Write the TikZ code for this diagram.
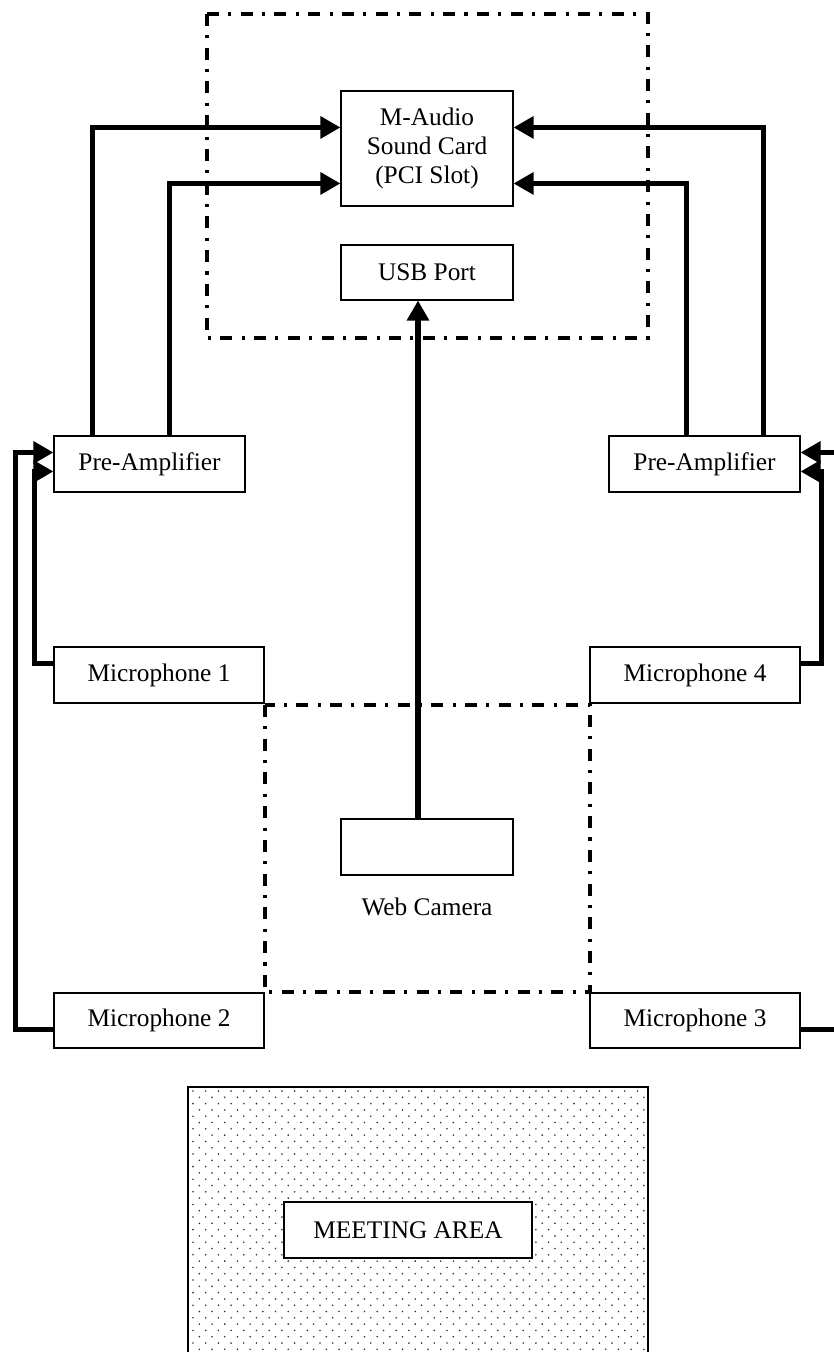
\documentclass[tikz,border=0pt]{standalone}
\usepackage{fontspec}
\setmainfont{Liberation Serif}
\usetikzlibrary{arrows.meta,calc}

\tikzset{
  blk/.style={draw,line width=0.8pt,fill=white,inner sep=0.75pt,align=center,font=\fontsize{19}{22}\selectfont},
  conn/.style={line width=3.8pt,-{Triangle[length=15pt,width=16pt]}},
  dashdot/.style={line width=2.6pt,dash pattern=on 9pt off 7pt on 2.3pt off 7pt}
}

\begin{document}
\begin{tikzpicture}[x=0.75pt,y=0.75pt,yscale=-1,xscale=1]
\useasboundingbox (0,0) rectangle (834,1352);
\clip (0,0) rectangle (834,1352);

% meeting area (dotted)
\draw[line width=0.8pt] (188,1087) rectangle (648,1365);
\foreach \r in {0,...,43}{
  \foreach \c in {0,...,35}{
    \fill[black!80] ({193+12.7*\c+6.35*mod(\r,2)},{1091+6.3*\r}) circle (0.9);
  }
}
\node[blk,minimum width=186pt,minimum height=42pt] (meet) at (408,1230) {MEETING AREA};

% computer and camera regions
\draw[dashdot] (207,14) rectangle (648,338);
\draw[dashdot] (265,705) rectangle (590,992);

% blocks
\node[blk,minimum width=129pt,minimum height=86.25pt] (card) at (427,148.5) {M-Audio\\Sound Card\\(PCI Slot)};
\node[blk,minimum width=129pt,minimum height=41.25pt] (usb) at (427,272.5) {USB Port};
\node[blk,minimum width=143.25pt,minimum height=42pt] (preL) at (149.5,464) {Pre-Amplifier};
\node[blk,minimum width=143.25pt,minimum height=42pt] (preR) at (704.5,464) {Pre-Amplifier};
\node[blk,minimum width=157.5pt,minimum height=42pt] (mic1) at (159,675) {Microphone 1};
\node[blk,minimum width=157.5pt,minimum height=42pt] (mic4) at (695,675) {Microphone 4};
\node[blk,minimum width=157.5pt,minimum height=41.25pt] (mic2) at (159,1020.5) {Microphone 2};
\node[blk,minimum width=157.5pt,minimum height=41.25pt] (mic3) at (695,1020.5) {Microphone 3};
\node[blk,minimum width=129pt,minimum height=42pt] (cam) at (427,847) {};
\node[font=\fontsize{19}{22}\selectfont] (camlbl) at (427,907) {Web Camera};

% pre-amplifiers to sound card
\draw[conn] ($(preL.north west)+(39,0)$) |- ($(card.north west)+(0,37)$);
\draw[conn] ($(preL.north west)+(116,0)$) |- ($(card.north west)+(0,93)$);
\draw[conn] ($(preR.north east)+(-37,0)$) |- ($(card.north east)+(0,37)$);
\draw[conn] ($(preR.north east)+(-114,0)$) |- ($(card.north east)+(0,93)$);

% microphones to pre-amplifiers
\draw[conn] ($(mic1.north west)+(0,17)$) -- ++(-19,0) |- ($(preL.north west)+(0,36)$);
\draw[conn] ($(mic2.north west)+(0,37)$) -- ++(-38,0) |- ($(preL.north west)+(0,17)$);
\draw[conn] ($(mic4.north east)+(0,17)$) -- ++(21,0) |- ($(preR.north east)+(0,36)$);
\draw[conn] ($(mic3.north east)+(0,37)$) -- ++(42,0) |- ($(preR.north east)+(0,17)$);

% camera to usb
\draw[conn] ($(cam.north)+(-9,0)$) -- ($(usb.south)+(-9,0)$);
\end{tikzpicture}
\end{document}
